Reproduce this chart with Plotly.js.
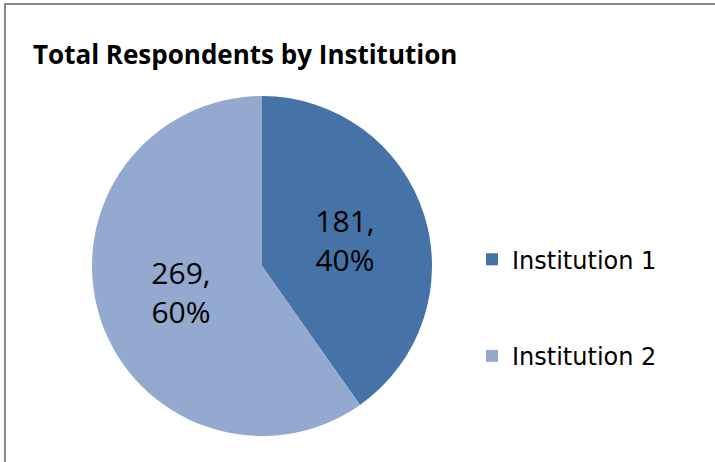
<!DOCTYPE html>
<html>
<head>
<meta charset="utf-8">
<script src="https://cdn.plot.ly/plotly-3.0.1.min.js"></script>
<style>html,body{margin:0;padding:0;background:#fff;}#chart{width:715px;height:462px;}</style>
</head>
<body>
<div id="chart"></div>
<script>
const categories = ["Institution 1", "Institution 2"];
const respondents = [181, 269];
const sliceColors = ["#4572A7", "#93A9CF"];

const W = 715, H = 462;
const cx = 262, cy = 266, r = 170;

const trace = {
  type: "pie",
  labels: categories.map(c => " <br>" + c + "<br> "),
  values: respondents,
  sort: false,
  direction: "clockwise",
  rotation: 0,
  marker: { colors: sliceColors, line: { width: 0 } },
  texttemplate: "%{value},<br>%{percent:.0%}",
  textposition: "inside",
  insidetextorientation: "horizontal",
  textfont: { family: "Open Sans, sans-serif", size: 30, color: "#000" },
  hoverinfo: "none",
  domain: { x: [(cx - r) / W, (cx + r) / W], y: [(H - cy - r) / H, (H - cy + r) / H] }
};

const layout = {
  width: W, height: H,
  margin: { l: 0, r: 0, t: 0, b: 0 },
  paper_bgcolor: "#fff",
  title: {
    text: "<b>Total Respondents by Institution</b>",
    font: { family: "Open Sans, sans-serif", size: 26, color: "#000" },
    x: 33 / W, xanchor: "left", xref: "paper",
    y: 1 - 55 / H, yanchor: "middle", yref: "container"
  },
  showlegend: true,
  legend: {
    x: 472 / W, xanchor: "left",
    y: 1 - 308 / H, yanchor: "middle",
    font: { family: "DejaVu Sans, sans-serif", size: 24, color: "#000" },
    bgcolor: "rgba(0,0,0,0)"
  },
  shapes: [{
    type: "rect", xref: "paper", yref: "paper",
    x0: 5 / W, x1: 1.2, y0: -0.2, y1: 1 - 4 / H,
    line: { color: "#8a8a8a", width: 2 }
  }]
};

Plotly.newPlot("chart", [trace], layout, { staticPlot: true, displayModeBar: false });
</script>
</body>
</html>
